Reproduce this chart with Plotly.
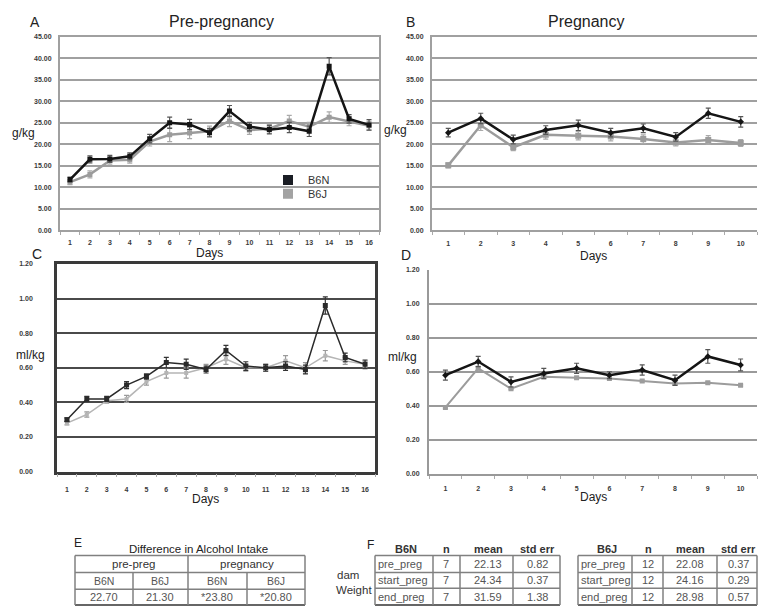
import plotly.graph_objects as go

W, H = 758, 611
FONT = "Liberation Sans, Arial, sans-serif"

# ---------------- data ----------------
days_pre = list(range(1, 17))
days_preg = list(range(1, 11))

A_b6n = [11.8, 16.5, 16.6, 17.2, 21.3, 25.0, 24.6, 22.7, 27.7, 24.1, 23.4, 23.9, 23.0, 38.1, 25.9, 24.5]
A_b6n_err = [0.6, 0.8, 0.8, 0.8, 1.0, 1.3, 1.2, 1.0, 1.3, 1.0, 1.0, 1.2, 1.2, 2.0, 1.0, 1.2]
A_b6j = [11.2, 13.0, 16.2, 16.4, 20.6, 22.2, 22.6, 23.0, 25.4, 23.3, 23.6, 25.4, 24.1, 26.3, 25.3, 24.3]
A_b6j_err = [0.6, 0.8, 0.8, 0.8, 1.0, 1.6, 1.3, 1.2, 1.3, 1.0, 1.0, 1.3, 1.0, 1.2, 1.0, 1.0]

B_b6n = [22.7, 26.0, 21.1, 23.3, 24.4, 22.7, 23.7, 21.7, 27.2, 25.2]
B_b6n_err = [1.0, 1.2, 1.0, 1.0, 1.2, 1.0, 1.0, 1.0, 1.2, 1.2]
B_b6j = [15.1, 24.4, 19.3, 22.2, 22.0, 21.8, 21.2, 20.4, 21.0, 20.3]
B_b6j_err = [0.6, 1.2, 0.8, 1.0, 1.0, 1.0, 1.0, 0.8, 1.0, 0.8]

C_b6n = [0.30, 0.42, 0.42, 0.50, 0.55, 0.63, 0.62, 0.59, 0.70, 0.61, 0.60, 0.61, 0.59, 0.96, 0.66, 0.62]
C_b6n_err = [0.01, 0.015, 0.015, 0.02, 0.015, 0.03, 0.03, 0.02, 0.03, 0.025, 0.02, 0.025, 0.025, 0.05, 0.025, 0.025]
C_b6j = [0.28, 0.33, 0.41, 0.42, 0.52, 0.57, 0.57, 0.60, 0.65, 0.60, 0.60, 0.64, 0.60, 0.67, 0.64, 0.62]
C_b6j_err = [0.01, 0.015, 0.015, 0.02, 0.02, 0.03, 0.03, 0.02, 0.03, 0.02, 0.02, 0.03, 0.03, 0.03, 0.02, 0.02]

D_b6n = [0.58, 0.66, 0.54, 0.59, 0.62, 0.58, 0.61, 0.55, 0.69, 0.64]
D_b6n_err = [0.03, 0.03, 0.03, 0.03, 0.03, 0.02, 0.03, 0.03, 0.04, 0.035]
D_b6j = [0.39, 0.62, 0.50, 0.57, 0.565, 0.56, 0.545, 0.53, 0.535, 0.52]
D_b6j_err = [0.005, 0.01, 0.005, 0.005, 0.005, 0.005, 0.005, 0.005, 0.005, 0.005]

# Table E
E_title = "Difference in Alcohol Intake"
E_groups = ["pre-preg", "pregnancy"]
E_strains = ["B6N", "B6J", "B6N", "B6J"]
E_values = ["22.70", "21.30", "*23.80", "*20.80"]

# Table F
F_header = ["n", "mean", "std err"]
F_rows = ["pre_preg", "start_preg", "end_preg"]
F_b6n_n = ["7", "7", "7"]
F_b6n_mean = ["22.13", "24.34", "31.59"]
F_b6n_se = ["0.82", "0.37", "1.38"]
F_b6j_n = ["12", "12", "12"]
F_b6j_mean = ["22.08", "24.16", "28.98"]
F_b6j_se = ["0.37", "0.29", "0.57"]

# ---------------- helpers ----------------
def px(x):
    return x / W

def py(y):
    return 1 - y / H

fig = go.Figure()

BLACK = "#151515"
GRAY = "#9c9c9c"

def add_series(xa, ya, x, y, err, color, width, msize, ecolor, symbol="square"):
    fig.add_trace(go.Scatter(
        x=x, y=y, xaxis=xa, yaxis=ya, mode="lines+markers",
        line=dict(color=color, width=width),
        marker=dict(color=color, size=msize, symbol=symbol),
        error_y=dict(type="data", array=err, visible=True, color=ecolor, thickness=1.2, width=2.5),
        showlegend=False, hoverinfo="skip"))

# Panel A
add_series("x", "y", days_pre, A_b6j, A_b6j_err, GRAY, 2.5, 5, "#aaaaaa")
add_series("x", "y", days_pre, A_b6n, A_b6n_err, BLACK, 2.5, 5, "#555555")
# Panel B
add_series("x2", "y2", days_preg, B_b6j, B_b6j_err, GRAY, 2.5, 6, "#aaaaaa")
add_series("x2", "y2", days_preg, B_b6n, B_b6n_err, BLACK, 2.5, 5, "#555555", "diamond")
# Panel C
add_series("x3", "y3", days_pre, C_b6j, C_b6j_err, "#b5b5b5", 1.5, 4, "#9a9a9a")
add_series("x3", "y3", days_pre, C_b6n, C_b6n_err, "#2a2a2a", 1.5, 5, "#333333")
# Panel D
add_series("x4", "y4", days_preg, D_b6j, D_b6j_err, GRAY, 2.0, 5, "#aaaaaa")
add_series("x4", "y4", days_preg, D_b6n, D_b6n_err, BLACK, 2.5, 5, "#555555", "diamond")

# legend entries (two legends to control spacing)
for name, col, lg in [("B6N", "#1a1d24", "legend"), ("B6J", "#a3a3a3", "legend2")]:
    fig.add_trace(go.Scatter(x=[None], y=[None], xaxis="x", yaxis="y", mode="markers",
                             marker=dict(color=col, size=10, symbol="square"), name=name, legend=lg))

tickfont = dict(family=FONT, size=7, color="#3a3a3a", weight="bold")

def xaxis_cfg(dom, n, standoff, linecolor, linewidth, mirror=False):
    return dict(domain=dom, range=[0.5, n + 0.5], tickvals=list(range(1, n + 1)),
                ticks="", showgrid=False, zeroline=False, showline=True,
                linecolor=linecolor, linewidth=linewidth, mirror=mirror,
                tickfont=tickfont, ticklabelstandoff=standoff, fixedrange=True,
                minor=dict(ticks="outside", ticklen=3, tickcolor="#aaaaaa", tick0=0.5, dtick=1))

def yaxis_cfg(dom, rng, dtick, anchor, gridcolor, gridwidth, linecolor, linewidth, standoff, mirror=False):
    return dict(domain=dom, range=rng, dtick=dtick, tickformat=".2f", anchor=anchor,
                showgrid=True, gridcolor=gridcolor, gridwidth=gridwidth, zeroline=False,
                showline=True, linecolor=linecolor, linewidth=linewidth, mirror=mirror,
                ticks="", tickfont=tickfont, ticklabelstandoff=standoff, fixedrange=True)

domA_x = [px(60), px(379)]
domA_y = [py(229), py(33)]
domB_x = [px(432), px(757)]
domC_x = [px(57), px(375)]
domC_y = [py(473), py(263)]
domD_x = [px(429), px(757)]
domD_y = [py(475), py(269)]

fig.update_layout(
    xaxis=xaxis_cfg(domA_x, 16, 4, "#a0a0a0", 2, mirror=True) | dict(anchor="y"),
    yaxis=yaxis_cfg(domA_y, [0, 45], 5, "x", "#a0a0a0", 2, "#a0a0a0", 2, 5, mirror=True),
    xaxis2=xaxis_cfg(domB_x, 10, 5, "#a0a0a0", 2, mirror=True) | dict(anchor="y2"),
    yaxis2=yaxis_cfg(domA_y, [0, 45], 5, "x2", "#a0a0a0", 2, "#a0a0a0", 2, 5),
    xaxis3=xaxis_cfg(domC_x, 16, 9, "#3a3a3a", 2.5, mirror=True) | dict(anchor="y3"),
    yaxis3=yaxis_cfg(domC_y, [0, 1.2], 0.2, "x3", "#4a4a4a", 2, "#3a3a3a", 2.5, 20, mirror=True),
    xaxis4=xaxis_cfg(domD_x, 10, 7, "#999999", 2, mirror=False) | dict(anchor="y4"),
    yaxis4=yaxis_cfg(domD_y, [0, 1.2], 0.2, "x4", "#9a9a9a", 1.5, "#999999", 2, 6),
)

leg_common = dict(xanchor="left", yanchor="middle",
                  font=dict(family=FONT, size=11, color="#333333"),
                  bgcolor="rgba(0,0,0,0)", tracegroupgap=0, itemwidth=30,
                  borderwidth=0)
fig.update_layout(
    width=W, height=H, margin=dict(l=0, r=0, t=0, b=0),
    paper_bgcolor="white", plot_bgcolor="white",
    font=dict(family=FONT, color="#222222"),
    legend=dict(x=px(268), y=py(178), **leg_common),
    legend2=dict(x=px(268), y=py(192), **leg_common),
    showlegend=True,
)

ann = []
def text(x, y, s, size=11, color="#222222", anchor="center", weight="normal"):
    ann.append(dict(x=px(x), y=py(y), xref="paper", yref="paper", text=s, showarrow=False,
                    xanchor=anchor, yanchor="middle",
                    font=dict(family=FONT, size=size, color=color, weight=weight)))

# Panel labels and titles
text(35, 18, "A", 14)
text(221, 18, "Pre-pregnancy", 16)
text(410, 18, "B", 14)
text(586, 18, "Pregnancy", 16)
text(37, 253, "C", 14)
text(406, 254, "D", 14)
# axis titles
text(23, 130, "g/kg", 12)
text(395, 127, "g/kg", 12)
text(30, 355, "ml/kg", 12)
text(402, 357, "ml/kg", 12)
text(209, 252, "Days", 12)
text(593, 255, "Days", 12)
text(205, 501, "Days", 12)
text(593, 499, "Days", 12)

shapes = []
LC = "#808080"
def line(x0, y0, x1, y1, color=LC, width=1.5):
    shapes.append(dict(type="line", xref="paper", yref="paper",
                       x0=px(x0), y0=py(y0), x1=px(x1), y1=py(y1),
                       line=dict(color=color, width=width)))

# ---- Table E ----
text(78, 545, "E", 12)
text(198, 551, E_title, 11.5)
line(75, 558, 305, 558)
line(75, 608, 305, 608, "#666666", 2)
line(75, 558, 75, 608)
line(305, 558, 305, 608)
line(75, 575, 305, 575)
line(75, 592, 305, 592)
line(188, 558, 188, 608)
line(133, 575, 133, 608)
line(247, 575, 247, 608)
text(133, 566.5, E_groups[0], 11.5, "#333333")
text(247, 566.5, E_groups[1], 11.5, "#333333")
e_cols = [104, 160, 217, 276]
for cx, s, v in zip(e_cols, E_strains, E_values):
    text(cx, 583.5, s, 10.5, "#555555")
    text(cx, 600, v, 11, "#555555")

# ---- Table F ----
text(370, 547, "F", 12)
text(348, 578, "dam", 11.5, "#333333")
text(354, 593, "Weight", 11.5, "#333333")

def table_f(x0, x1, cols, strain, n, mean, se, hx):
    line(x0, 558, x1, 558)
    line(x0, 608, x1, 608, "#666666", 2)
    line(x0, 558, x0, 608)
    line(x1, 558, x1, 608)
    line(x0, 575, x1, 575)
    line(x0, 591, x1, 591)
    for c in cols:
        line(c, 558, c, 608)
    text(hx[0], 551, strain, 11, "#333333", weight="bold")
    for h, cx in zip(F_header, hx[1:]):
        text(cx, 551, h, 11, "#333333", weight="bold")
    ys = [566.5, 583, 600]
    for i, yy in enumerate(ys):
        text(x0 + 1, yy, F_rows[i], 11, "#555555", anchor="left")
        text(hx[1], yy, n[i], 11, "#555555")
        text(hx[2], yy, mean[i], 11, "#555555")
        text(hx[3], yy, se[i], 11, "#555555")

table_f(375, 560, [433, 460, 513], "B6N", F_b6n_n, F_b6n_mean, F_b6n_se, [406, 446, 488, 537])
table_f(578, 757, [632, 663, 717], "B6J", F_b6j_n, F_b6j_mean, F_b6j_se, [607, 648, 690, 738])

fig.update_layout(annotations=ann, shapes=shapes)
fig.write_html("out.html", config={"displayModeBar": False},
               post_script="document.body.style.margin='0';document.body.style.padding='0';document.body.style.overflow='hidden';")
